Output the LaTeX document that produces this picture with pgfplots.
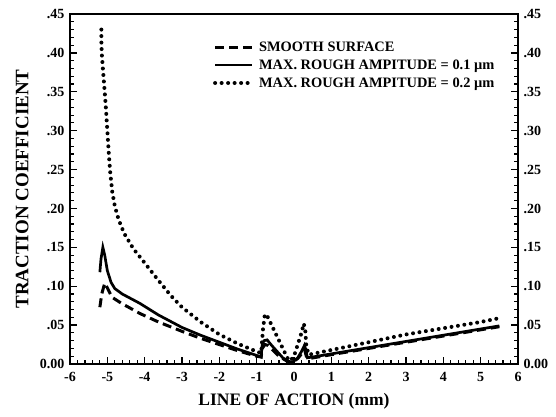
\documentclass[border=0pt]{standalone}
\usepackage{pgfplots}
\pgfplotsset{compat=1.18}
\usepackage{fontspec}
\setmainfont{Liberation Serif}

\newcommand{\tickfont}{\fontsize{14}{16}\selectfont\bfseries}
\newcommand{\legfont}{\fontsize{14.4}{16}\selectfont\bfseries}
\newcommand{\xlabfont}{\fontsize{17.5}{19}\selectfont\bfseries}
\newcommand{\ylabfont}{\fontsize{19}{21}\selectfont\bfseries}

\pgfplotsset{
  tractionframe/.style={
    at={(0,0)}, anchor=south west,
    scale only axis, width=448pt, height=350pt,
    xmin=-6, xmax=6, ymin=0, ymax=0.45,
    ytick={0,0.05,0.10,0.15,0.20,0.25,0.30,0.35,0.40,0.45},
    yticklabels={0.00,.05,.10,.15,.20,.25,.30,.35,.40,.45},
    /pgf/number format/assume math mode=true,
    ticklabel style={font=\tickfont},
  }
}

\begin{document}
\begin{tikzpicture}
\path[use as bounding box] (-70pt,-52pt) rectangle (486pt,364pt);

\begin{axis}[
  tractionframe,
  xtick={-6,-5,-4,-3,-2,-1,0,1,2,3,4,5,6},
  xticklabels={-6,-5,-4,-3,-2,-1,0,1,2,3,4,5,6},
  minor x tick num=4, minor y tick num=4,
  xtick pos=bottom, ytick pos=both, yticklabel pos=left,
  tick align=inside,
  major tick length=7pt, minor tick length=4pt,
  major tick style={black, line width=1.4pt},
  minor tick style={black, line width=1.2pt},
  axis line style={line width=2pt},
  xticklabel style={yshift=-5pt},
  yticklabel style={xshift=-2pt},
  xlabel={LINE OF ACTION (mm)},
  ylabel={TRACTION COEFFICIENT},
  every axis x label/.style={at={(axis description cs:0.5,-0.106)}, anchor=center, font=\xlabfont},
  every axis y label/.style={at={(axis description cs:-0.107,0.5)}, anchor=center, rotate=90, font=\ylabfont},
  legend style={at={(rel axis cs:0.319,0.927)}, anchor=north west,
    draw=none, fill=none, font=\legfont, inner sep=0pt, row sep=2.8pt,
    column sep=3pt, cells={anchor=west}},
  legend image code/.code={\draw[#1] (0pt,0pt) -- (37pt,0pt);},
]

% smooth surface
\addplot[black, line width=3pt, dash pattern=on 9pt off 5pt] coordinates {
(-5.20,0.073) (-5.15,0.090) (-5.07,0.104) (-5.00,0.098) (-4.88,0.086)
(-4.62,0.078) (-4.13,0.065) (-3.63,0.054) (-3.00,0.042) (-2.50,0.033)
(-2.00,0.025) (-1.50,0.017) (-1.00,0.010) (-0.88,0.009) (-0.85,0.020)
(-0.78,0.025) (-0.70,0.024) (-0.55,0.017) (-0.40,0.010) (-0.20,0.004)
(-0.05,0.002) (0.10,0.007) (0.20,0.013) (0.28,0.019) (0.33,0.010)
(0.40,0.007) (1.00,0.012) (2.00,0.020) (3.00,0.028) (4.00,0.036)
(5.00,0.044) (5.50,0.048)
};
\addlegendentry{SMOOTH SURFACE}

% roughness amplitude 0.1 um
\addplot[black, line width=2.7pt] coordinates {
(-5.20,0.118) (-5.17,0.135) (-5.12,0.150) (-5.07,0.140) (-5.00,0.120)
(-4.90,0.105) (-4.80,0.097) (-4.60,0.090) (-4.13,0.078) (-3.63,0.063)
(-3.00,0.047) (-2.50,0.037) (-2.00,0.028) (-1.50,0.019) (-1.00,0.011)
(-0.88,0.009) (-0.85,0.026) (-0.80,0.030) (-0.72,0.031) (-0.60,0.024)
(-0.45,0.016) (-0.30,0.008) (-0.15,0.003) (-0.05,0.002) (0.10,0.008)
(0.20,0.016) (0.28,0.024) (0.32,0.018) (0.36,0.008) (0.50,0.009)
(1.00,0.013) (2.00,0.021) (3.00,0.029) (4.00,0.037) (5.00,0.045)
(5.50,0.049)
};
\addlegendentry{MAX. ROUGH AMPITUDE = 0.1 µm}

% roughness amplitude 0.2 um
\addplot[black, line width=4pt, line cap=round, dash pattern=on 0pt off 6.5pt] coordinates {
(-5.16,0.430) (-5.16,0.415) (-5.15,0.400) (-5.12,0.380) (-5.08,0.356)
(-5.04,0.330) (-5.00,0.300) (-4.96,0.270) (-4.92,0.245) (-4.87,0.222)
(-4.80,0.203) (-4.70,0.186) (-4.55,0.168) (-4.30,0.148) (-4.00,0.130)
(-3.64,0.108) (-3.30,0.088) (-3.00,0.073) (-2.50,0.054) (-2.00,0.038)
(-1.50,0.026) (-1.00,0.016) (-0.88,0.014)
(-0.87,0.020) (-0.83,0.045) (-0.78,0.064) (-0.72,0.062) (-0.60,0.050)
(-0.45,0.035) (-0.30,0.020) (-0.18,0.008) (-0.10,0.004) (0.00,0.010)
(0.10,0.025) (0.20,0.040) (0.26,0.052) (0.30,0.045) (0.33,0.022)
(0.40,0.012) (0.60,0.014) (1.00,0.018) (2.00,0.028) (3.00,0.038)
(4.00,0.046) (5.00,0.054) (5.50,0.059)
};
\addlegendentry{MAX. ROUGH AMPITUDE = 0.2 µm}
\end{axis}

% tick labels repeated on the right-hand side
\begin{axis}[
  tractionframe,
  hide x axis,
  axis y line*=right,
  y axis line style={draw=none},
  ytick style={draw=none},
  yticklabel style={xshift=2pt},
]
\end{axis}
\end{tikzpicture}
\end{document}
